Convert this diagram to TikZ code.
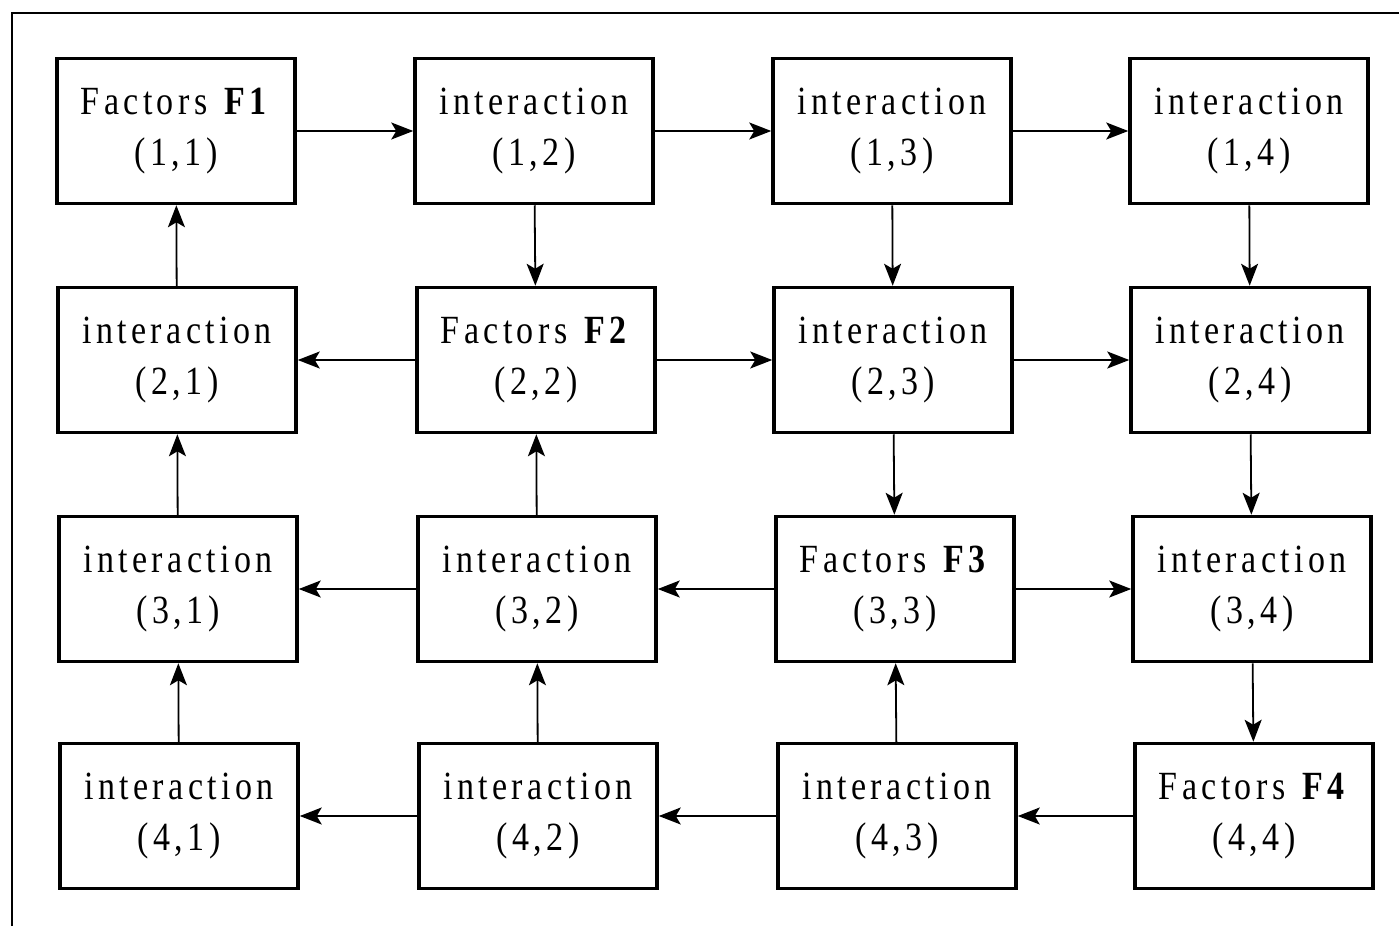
\documentclass[tikz,border=0pt]{standalone}
\usepackage{fontspec}
\setmainfont{Liberation Serif}[LetterSpace=11,FakeStretch=0.85]
\usetikzlibrary{arrows.meta}
\begin{document}
\begin{tikzpicture}[x=1pt,y=-1pt,
  box/.style={draw,line width=3.5pt,minimum width=238pt,minimum height=145pt,align=center,font=\fontsize{40}{51}\selectfont,inner sep=0pt},
  link/.style={line width=1.8pt,-{Stealth[length=22pt,width=17pt,inset=5pt]}},
  frame/.style={line width=1.8pt}]
\useasboundingbox (0,0) rectangle (1399,926);
\draw[frame] (12,926) -- (12,13) -- (1399,13);
% row 1
\node[box] (a11) at (176,131) {Factors \textbf{F1}\\(1,1)};
\node[box] (a12) at (534,131) {interaction\\(1,2)};
\node[box] (a13) at (892,131) {interaction\\(1,3)};
\node[box] (a14) at (1249,131) {interaction\\(1,4)};
% row 2
\node[box] (a21) at (177,360) {interaction\\(2,1)};
\node[box] (a22) at (536,360) {Factors \textbf{F2}\\(2,2)};
\node[box] (a23) at (893,360) {interaction\\(2,3)};
\node[box] (a24) at (1250,360) {interaction\\(2,4)};
% row 3
\node[box] (a31) at (178,589) {interaction\\(3,1)};
\node[box] (a32) at (537,589) {interaction\\(3,2)};
\node[box] (a33) at (895,589) {Factors \textbf{F3}\\(3,3)};
\node[box] (a34) at (1252,589) {interaction\\(3,4)};
% row 4
\node[box] (a41) at (179,816) {interaction\\(4,1)};
\node[box] (a42) at (538,816) {interaction\\(4,2)};
\node[box] (a43) at (897,816) {interaction\\(4,3)};
\node[box] (a44) at (1254,816) {Factors \textbf{F4}\\(4,4)};
% horizontal
\draw[link] (a11) -- (a12);
\draw[link] (a12) -- (a13);
\draw[link] (a13) -- (a14);
\draw[link] (a22) -- (a21);
\draw[link] (a22) -- (a23);
\draw[link] (a23) -- (a24);
\draw[link] (a32) -- (a31);
\draw[link] (a33) -- (a32);
\draw[link] (a33) -- (a34);
\draw[link] (a42) -- (a41);
\draw[link] (a43) -- (a42);
\draw[link] (a44) -- (a43);
% vertical
\draw[link] (a21) -- (a11);
\draw[link] (a12) -- (a22);
\draw[link] (a13) -- (a23);
\draw[link] (a14) -- (a24);
\draw[link] (a31) -- (a21);
\draw[link] (a32) -- (a22);
\draw[link] (a23) -- (a33);
\draw[link] (a24) -- (a34);
\draw[link] (a41) -- (a31);
\draw[link] (a42) -- (a32);
\draw[link] (a43) -- (a33);
\draw[link] (a34) -- (a44);
\end{tikzpicture}
\end{document}
